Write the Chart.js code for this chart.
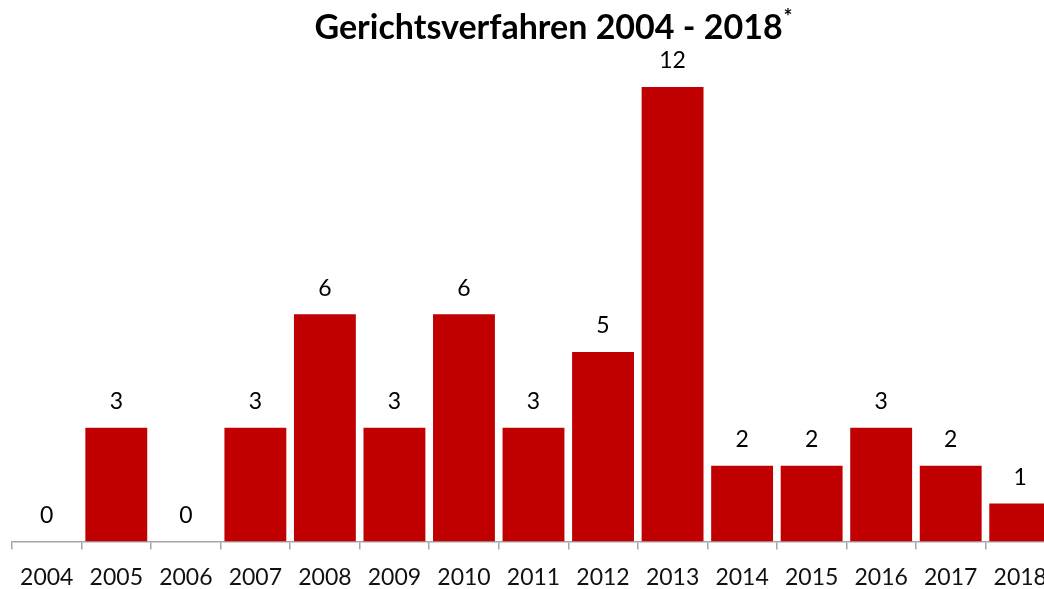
<!DOCTYPE html>
<html>
<head>
<meta charset="utf-8">
<script src="https://cdn.jsdelivr.net/npm/chart.js@4"></script>
<style>
  html, body { margin: 0; padding: 0; background: #fff; overflow: hidden; }
  #wrap { width: 1106px; height: 589px; }
</style>
</head>
<body>
<div id="wrap"><canvas id="verfahrenChart" width="1106" height="589"></canvas></div>
<script>
// years and number of court cases per year
const years = ['2004', '2005', '2006', '2007', '2008', '2009', '2010', '2011', '2012', '2013', '2014', '2015', '2016', '2017', '2018'];
const cases = [0, 3, 0, 3, 6, 3, 6, 3, 5, 12, 2, 2, 3, 2, 1];
const chartTitle = 'Gerichtsverfahren 2004 - 2018';
const titleMark = '*';

const FONT = 'Lato, "Open Sans", sans-serif';

// title with a raised asterisk + value labels above the bars
const drawExtras = {
    id: 'drawExtras',
    afterDatasetsDraw(chart) {
        const c = chart.ctx;
        c.save();
        // title
        c.font = 'bold 34px ' + FONT;
        c.fillStyle = '#000';
        c.textBaseline = 'middle';
        let w = c.measureText(chartTitle).width;
        c.font = 'bold 21px ' + FONT;
        let wm = c.measureText(titleMark).width;
        let x0 = 553 - (w + wm) / 2;
        c.font = 'bold 34px ' + FONT;
        c.textAlign = 'left';
        c.fillText(chartTitle, x0, 28);
        c.font = 'bold 21px ' + FONT;
        c.fillText(titleMark, x0 + w + 1, 17);

        // value labels
        let meta = chart.getDatasetMeta(0);
        c.font = '23px ' + FONT;
        c.textAlign = 'center';
        c.fillStyle = '#000';
        meta.data.forEach((bar, i) => {
            c.fillText(String(cases[i]), bar.x, bar.y - 26);
        });
        c.restore();
    }
};

const ctx = document.getElementById('verfahrenChart');
let chr = new Chart(ctx, {
    type: 'bar',
    data: {
        labels: years,
        datasets: [{
            label: 'Gerichtsverfahren',
            data: cases,
            backgroundColor: '#C00000',
            borderWidth: 0,
            barPercentage: 0.89,
            categoryPercentage: 1.0
        }]
    },
    options: {
        responsive: false,
        animation: false,
        layout: {
            padding: { top: 87, left: 12, right: 51, bottom: -16 }
        },
        plugins: {
            legend: { display: false },
            title: { display: false },
            tooltip: { enabled: false }
        },
        scales: {
            x: {
                grid: {
                    offset: true,
                    drawOnChartArea: false,
                    drawTicks: true,
                    tickLength: 8,
                    color: '#A6A6A6',
                    lineWidth: 1.5
                },
                border: { display: true, color: '#A6A6A6', width: 1.5 },
                ticks: {
                    color: '#111',
                    padding: 14,
                    font: { family: FONT, size: 23, lineHeight: 1.2 },
                    maxRotation: 0,
                    autoSkip: false
                }
            },
            y: {
                display: false,
                min: 0,
                max: 12
            }
        }
    },
    plugins: [drawExtras]
});
</script>
</body>
</html>
